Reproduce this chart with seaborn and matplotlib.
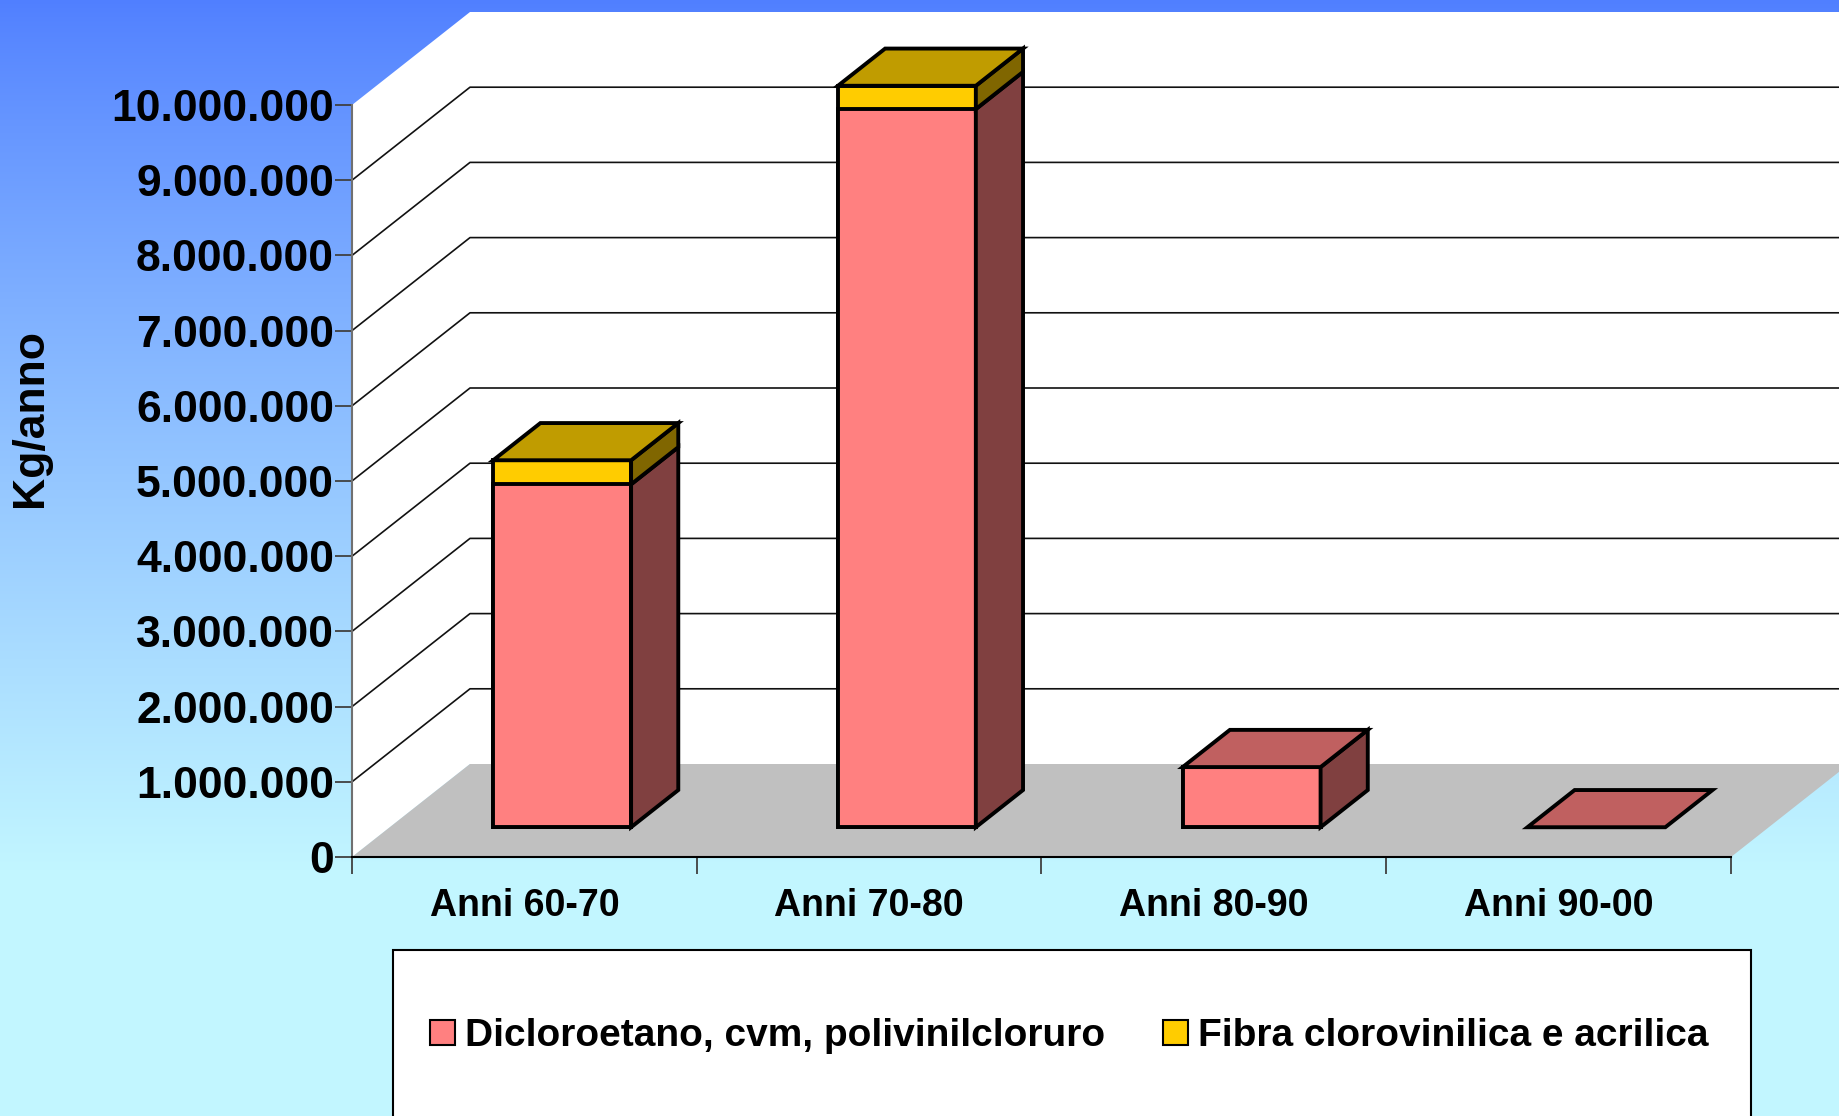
import numpy as np
import seaborn as sns
import matplotlib.pyplot as plt
from matplotlib.patches import Polygon, Patch, Rectangle

# Data (kg/anno)
categories = ["Anni 60-70", "Anni 70-80", "Anni 80-90", "Anni 90-00"]
dicloroetano = np.array([4560000, 9550000, 800000, 0])
fibra = np.array([320000, 310000, 0, 0])
series_names = ["Dicloroetano, cvm, polivinilcloruro", "Fibra clorovinilica e acrilica"]
y_ticks = np.arange(0, 10000001, 1000000)

# colours
pink, pink_side, pink_top = "#ff8080", "#804040", "#c06060"
yellow, yellow_side, yellow_top = "#ffcc00", "#806600", "#c09c00"

sns.set_theme(style="white")
plt.rcParams['font.family'] = ['Liberation Sans', 'DejaVu Sans']
plt.rcParams['text.color'] = 'black'

W, H = 1840, 1116
fig = plt.figure(figsize=(W / 100, H / 100), dpi=100)

# background gradient
bg = fig.add_axes([0, 0, 1, 1], zorder=-10)
t = np.clip(np.linspace(0, 1, H) / 0.78, 0, 1) ** 0.85
top_c = np.array([80, 127, 255]) / 255
bot_c = np.array([194, 246, 255]) / 255
grad = top_c[None, :] * (1 - t[:, None]) + bot_c[None, :] * t[:, None]
bg.imshow(np.repeat(grad[:, None, :], 4, axis=1), aspect='auto', extent=[0, 1, 0, 1])
bg.axis('off')

# front plane axes (oblique 3D projection done in data units)
x0, x1 = 352, 1731
y_bot, y_top = 857, 105
ax = fig.add_axes([x0 / W, (H - y_bot) / H, (x1 - x0) / W, (y_bot - y_top) / H])
ax.patch.set_visible(False)

px_cat = (x1 - x0) / 4
px_val = (y_bot - y_top) / 1e7
ddx = 118 / px_cat          # depth vector in data units
ddy = 93 / px_val
z0, z1 = 0.32, 0.72         # bar front / back depth
bw = 0.4
elw = 2.8

totals = dicloroetano + fibra
sns.barplot(x=categories, y=totals, color=yellow, saturation=1, width=bw,
            edgecolor='black', linewidth=elw, errorbar=None, ax=ax)
sns.barplot(x=categories, y=dicloroetano, color=pink, saturation=1, width=bw,
            edgecolor='black', linewidth=elw, errorbar=None, ax=ax)
bars = list(ax.patches)
for p in bars:
    p.set_x(p.get_x() + z0 * ddx)
    p.set_y(p.get_y() + z0 * ddy)
    p.set_clip_on(False)
    p.set_zorder(5)

# walls and floor
xa, xb = -0.5, 3.5
back = Polygon([(xa + ddx, ddy), (xb + ddx, ddy), (xb + ddx, 1e7 + ddy), (xa + ddx, 1e7 + ddy)],
               closed=True, fc='white', ec='none', zorder=1, clip_on=False)
left = Polygon([(xa, 0), (xa, 1e7), (xa + ddx, 1e7 + ddy), (xa + ddx, ddy)],
               closed=True, fc='white', ec='none', zorder=1, clip_on=False)
floor = Polygon([(xa, 0), (xb, 0), (xb + ddx, ddy), (xa + ddx, ddy)],
                closed=True, fc='#c0c0c0', ec='none', zorder=1.5, clip_on=False)
for poly in (back, left, floor):
    ax.add_patch(poly)

for v in y_ticks[1:-1]:
    ax.plot([xa, xa + ddx, xb + ddx], [v, v + ddy, v + ddy], color='#111111',
            lw=1.2, zorder=2, clip_on=False)

# side and top faces of the bars
d = z1 - z0
for i in range(len(categories)):
    xl = i - bw / 2 + z0 * ddx
    xr = i + bw / 2 + z0 * ddx
    base = z0 * ddy
    segs = [(0, dicloroetano[i], pink_side), (dicloroetano[i], totals[i], yellow_side)]
    for b, tp, sc in segs:
        if tp > b:
            ax.add_patch(Polygon([(xr, b + base), (xr, tp + base),
                                  (xr + d * ddx, tp + base + d * ddy), (xr + d * ddx, b + base + d * ddy)],
                                 closed=True, fc=sc, ec='black', lw=elw, zorder=5, clip_on=False))
    T = totals[i]
    tc = yellow_top if fibra[i] > 0 else pink_top
    ax.add_patch(Polygon([(xl, T + base), (xr, T + base),
                          (xr + d * ddx, T + base + d * ddy), (xl + d * ddx, T + base + d * ddy)],
                         closed=True, fc=tc, ec='black', lw=elw, zorder=6, clip_on=False))

ax.set_xlim(xa, xb)
ax.set_ylim(0, 1e7)

# axes styling
for s in ['top', 'right']:
    ax.spines[s].set_visible(False)
ax.spines['left'].set_color('#707070')
ax.spines['left'].set_linewidth(1.5)
ax.spines['bottom'].set_color('black')
ax.spines['bottom'].set_linewidth(1.5)

ax.set_yticks(y_ticks)
ax.set_yticklabels([f"{int(v):,}".replace(",", ".") for v in y_ticks],
                   fontsize=32, fontweight='bold', color='black')
ax.tick_params(axis='y', left=True, direction='out', length=12, width=1.3,
               color='#404040', pad=1)

ax.set_xticks(np.arange(xa, xb + 0.01, 1.0))
ax.set_xticklabels([])
ax.tick_params(axis='x', which='major', bottom=True, direction='out', length=12,
               width=1.3, color='#404040')
ax.set_xticks(range(len(categories)), minor=True)
ax.set_xticklabels(categories, minor=True, fontsize=27, fontweight='bold', color='black')
ax.tick_params(axis='x', which='minor', bottom=True, length=0, pad=22)
ax.set_xlabel("")
ax.set_ylabel("")

fig.text(31 / W, 1 - 418 / H, "Kg/anno", rotation=90, ha='center', va='center',
         fontsize=32, fontweight='bold', color='black')

# legend box
fig.patches.append(Rectangle((393 / W, -0.05), (1751 - 393) / W, (H - 950) / H + 0.05,
                             transform=fig.transFigure, fc='white', ec='black', lw=1.5,
                             zorder=-5))
handles = [Patch(fc=pink, ec='black', lw=1.5), Patch(fc=yellow, ec='black', lw=1.5)]
leg = fig.legend(handles, series_names, ncol=2, frameon=False, loc='center',
                 bbox_to_anchor=(1069 / W, 1 - 1036 / H), bbox_transform=fig.transFigure,
                 prop={'size': 28, 'weight': 'bold'}, handlelength=0.65, handleheight=0.62,
                 handletextpad=0.25, columnspacing=1.5, labelcolor='black')
leg.set_zorder(10)

fig.savefig("out.png", dpi=100)
